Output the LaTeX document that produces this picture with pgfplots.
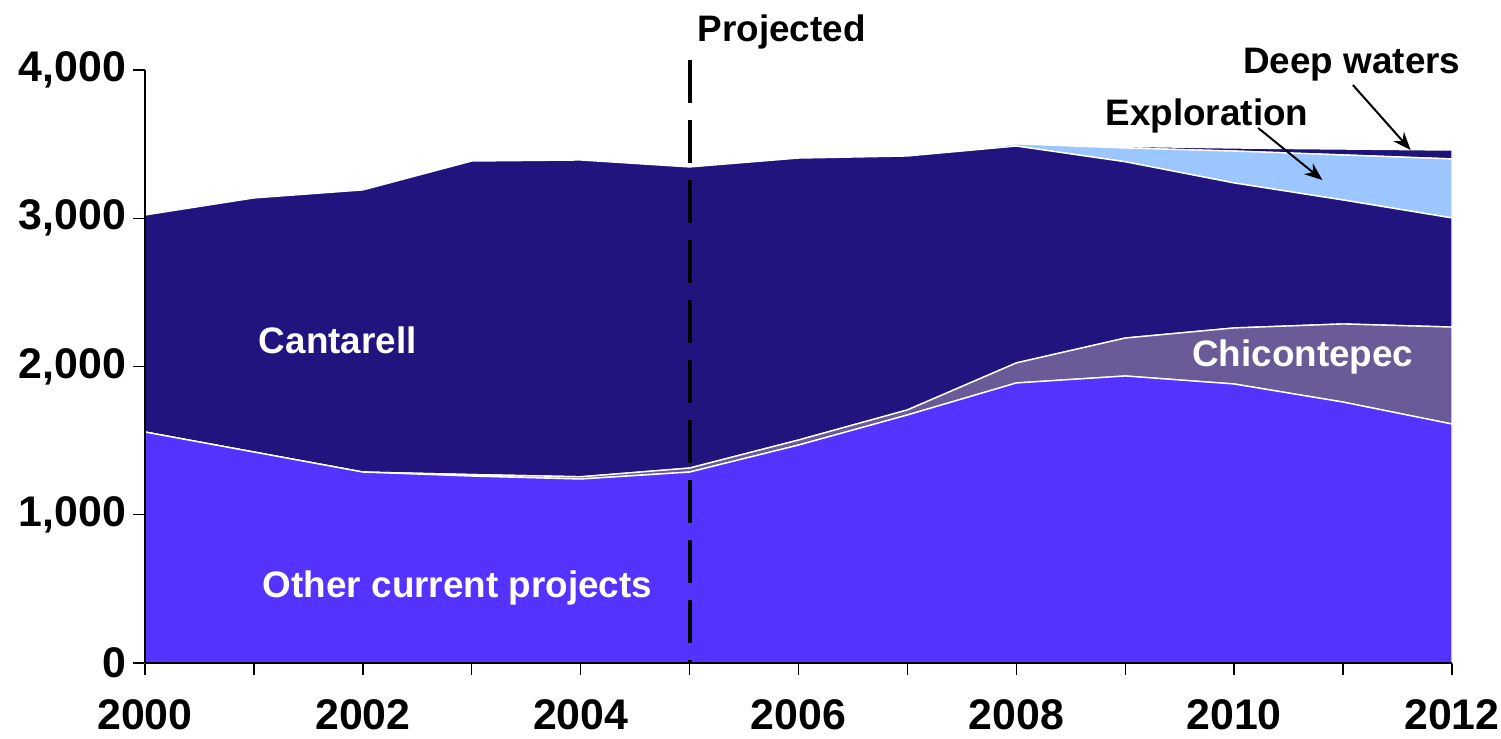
\documentclass[border=0pt]{standalone}
\usepackage{fontspec}
\setmainfont{Liberation Sans}
\usepackage{pgfplots}
\pgfplotsset{compat=1.18}
\usepackage{pgfplotstable}
\usetikzlibrary{arrows.meta}

\definecolor{otherc}{HTML}{5533FF}
\definecolor{cantc}{HTML}{22147F}
\definecolor{chicc}{HTML}{6A5A98}
\definecolor{explc}{HTML}{9CC6FF}
\definecolor{deepc}{HTML}{1C1478}

% thousand barrels per day, stacked from the bottom
\pgfplotstableread{
year other chic cant expl deep
2000 1558 0   1464 0   0
2001 1423 0   1714 0   0
2002 1288 0   1903 0   0
2003 1261 10  2115 0   0
2004 1241 15  2137 0   0
2005 1288 27  2031 0   0
2006 1470 34  1902 0   0
2007 1673 34  1713 0   0
2008 1889 135 1463 15  5
2009 1936 256 1189 93  11
2010 1882 378 978  215 21
2011 1760 527 836  304 40
2012 1612 654 736  398 60
}\proddata

\begin{document}
\begin{tikzpicture}[lbl/.style={font=\fontsize{18.5}{20}\selectfont\bfseries}]
\path[use as bounding box] (-72.5bp,-38bp) rectangle (678bp,331.5bp);
\begin{axis}[
    scale only axis,
    width=653.5bp, height=296.5bp,
    xmin=2000, xmax=2012,
    ymin=0, ymax=4000,
    axis x line=bottom, axis y line=left,
    axis line style={-, line width=0.8bp},
    clip=false,
    tick align=outside,
    major tick length=6bp,
    tick style={black, line width=0.7bp},
    xtick={2000,2001,...,2012},
    xticklabels={2000,,2002,,2004,,2006,,2008,,2010,,2012},
    ytick={0,1000,2000,3000,4000},
    yticklabels={0,{1,000},{2,000},{3,000},{4,000}},
    tick label style={font=\fontsize{21.5}{22}\selectfont\bfseries},
    xticklabel style={yshift=-9bp},
    stack plots=y,
]
\addplot[fill=otherc, draw=white, line width=0.7bp] table[x=year, y=other] {\proddata} \closedcycle;
\addplot[fill=chicc, draw=white, line width=0.7bp] table[x=year, y=chic] {\proddata} \closedcycle;
\addplot[fill=cantc, draw=white, line width=0.7bp] table[x=year, y=cant] {\proddata} \closedcycle;
\addplot[fill=explc, draw=white, line width=0.7bp] table[x=year, y=expl] {\proddata} \closedcycle;
\addplot[fill=deepc, draw=white, line width=0.7bp] table[x=year, y=deep] {\proddata} \closedcycle;

\coordinate (o) at (axis cs:2000,0);
\coordinate (ytop) at (axis cs:2000,4000);
\coordinate (xend) at (axis cs:2012,0);
\coordinate (dtop) at (axis cs:2005,4070);
\coordinate (dbot) at (axis cs:2005,0);
\coordinate (tproj) at (axis cs:2005.07,4256);
\coordinate (tcant) at (axis cs:2001.77,2179);
\coordinate (tother) at (axis cs:2002.87,506);
\coordinate (tchic) at (axis cs:2010.63,2064);
\coordinate (texpl) at (axis cs:2009.75,3690);
\coordinate (tdeep) at (axis cs:2011.08,4034);
\coordinate (a1) at (axis cs:2010.22,3609);
\coordinate (a2) at (axis cs:2010.81,3258);
\coordinate (b1) at (axis cs:2011.09,3899);
\coordinate (b2) at (axis cs:2011.62,3460);
\end{axis}

\draw[line width=0.8bp] (o) -- (ytop);
\draw[line width=0.8bp] (o) -- (xend);
\draw[black, line width=2bp, dash pattern=on 21.5bp off 8.5bp] (dtop) -- (dbot);

\node[lbl, anchor=west, inner sep=0pt] at (tproj) {Projected};
\node[lbl, white] at (tcant) {Cantarell};
\node[lbl, white] at (tother) {Other current projects};
\node[lbl, white] at (tchic) {Chicontepec};
\node[lbl] at (texpl) {Exploration};
\node[lbl] at (tdeep) {Deep waters};
\draw[-{Stealth[length=9bp, width=7bp]}, line width=1bp] (a1) -- (a2);
\draw[-{Stealth[length=9bp, width=7bp]}, line width=1bp] (b1) -- (b2);
\end{tikzpicture}
\end{document}
